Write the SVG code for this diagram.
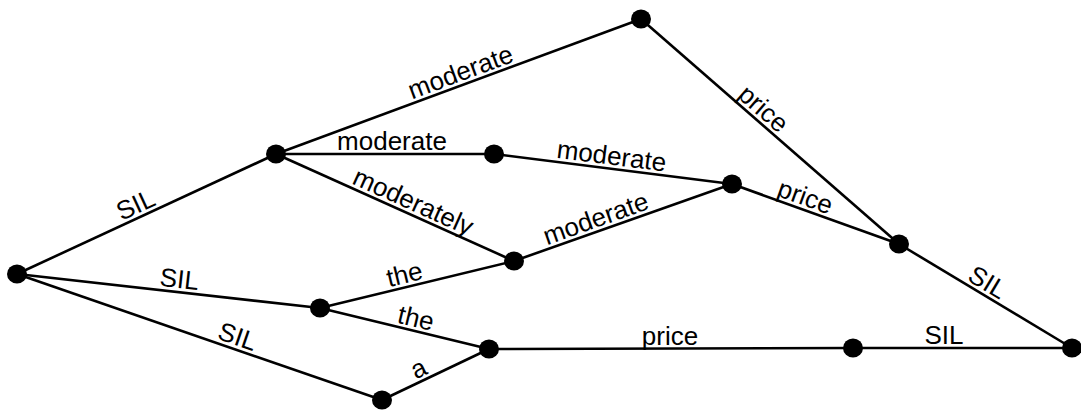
<svg xmlns="http://www.w3.org/2000/svg" width="1081" height="412" viewBox="0 0 1081 412">
<style>
.e{stroke:#000;stroke-width:2.6;fill:none}
.n{fill:#000}
.l{font-family:"Liberation Sans",Arial,sans-serif;font-size:26px;fill:#000;text-anchor:middle}
</style>
<rect width="1081" height="412" fill="#fff"/>
<g id="connectors">
<line class="e" x1="17" y1="274" x2="276" y2="154"/>
<line class="e" x1="17" y1="274" x2="320" y2="308"/>
<line class="e" x1="17" y1="274" x2="382" y2="400"/>
<line class="e" x1="276" y1="154" x2="641" y2="19"/>
<line class="e" x1="276" y1="154" x2="494" y2="154"/>
<line class="e" x1="276" y1="154" x2="514" y2="261"/>
<line class="e" x1="494" y1="154" x2="732" y2="184"/>
<line class="e" x1="514" y1="261" x2="732" y2="184"/>
<line class="e" x1="641" y1="19" x2="899" y2="244"/>
<line class="e" x1="732" y1="184" x2="899" y2="244"/>
<line class="e" x1="899" y1="244" x2="1072" y2="348"/>
<line class="e" x1="320" y1="308" x2="514" y2="261"/>
<line class="e" x1="320" y1="308" x2="489" y2="349"/>
<line class="e" x1="382" y1="400" x2="489" y2="349"/>
<line class="e" x1="489" y1="349" x2="853" y2="348"/>
<line class="e" x1="853" y1="348" x2="1072" y2="348"/>
<text class="l" transform="translate(141,216.5) rotate(-24.9)" x="0" y="-4">SIL</text>
<text class="l" transform="translate(178,292) rotate(6.4)" x="0" y="-4">SIL</text>
<text class="l" transform="translate(233.5,348.7) rotate(19)" x="0" y="-4">SIL</text>
<text class="l" transform="translate(465,84.1) rotate(-20.3)" x="0" y="-4">moderate</text>
<text class="l" transform="translate(392,154)" x="0" y="-4">moderate</text>
<text class="l" transform="translate(408,213.3) rotate(24.2)" x="0" y="-4">moderately</text>
<text class="l" transform="translate(610,168.6) rotate(7.2)" x="0" y="-4">moderate</text>
<text class="l" transform="translate(600,230.6) rotate(-19.5)" x="0" y="-4">moderate</text>
<text class="l" transform="translate(755,118.4) rotate(41.1)" x="0" y="-4">price</text>
<text class="l" transform="translate(801,208.8) rotate(19.8)" x="0" y="-4">price</text>
<text class="l" transform="translate(981,293.3) rotate(31)" x="0" y="-4">SIL</text>
<text class="l" transform="translate(407.5,286.8) rotate(-13.6)" x="0" y="-4">the</text>
<text class="l" transform="translate(413,330.6) rotate(13.6)" x="0" y="-4">the</text>
<text class="l" transform="translate(424,380) rotate(-25.5)" x="0" y="-4">a</text>
<text class="l" transform="translate(670,349)" x="0" y="-4">price</text>
<text class="l" transform="translate(944,348)" x="0" y="-4">SIL</text>
</g>
<g id="nA"><ellipse class="n" cx="17" cy="274" rx="10" ry="9.5"/></g>
<g id="nB"><ellipse class="n" cx="276" cy="154" rx="10" ry="9.5"/></g>
<g id="nC"><ellipse class="n" cx="641" cy="19" rx="10" ry="9.5"/></g>
<g id="nD"><ellipse class="n" cx="494" cy="154" rx="10" ry="9.5"/></g>
<g id="nE"><ellipse class="n" cx="732" cy="184" rx="10" ry="9.5"/></g>
<g id="nF"><ellipse class="n" cx="899" cy="244" rx="10" ry="9.5"/></g>
<g id="nG"><ellipse class="n" cx="514" cy="261" rx="10" ry="9.5"/></g>
<g id="nH"><ellipse class="n" cx="320" cy="308" rx="10" ry="9.5"/></g>
<g id="nI"><ellipse class="n" cx="489" cy="349" rx="10" ry="9.5"/></g>
<g id="nJ"><ellipse class="n" cx="853" cy="348" rx="10" ry="9.5"/></g>
<g id="nK"><ellipse class="n" cx="1072" cy="348" rx="10" ry="9.5"/></g>
<g id="nL"><ellipse class="n" cx="382" cy="400" rx="10" ry="9.5"/></g>
</svg>
